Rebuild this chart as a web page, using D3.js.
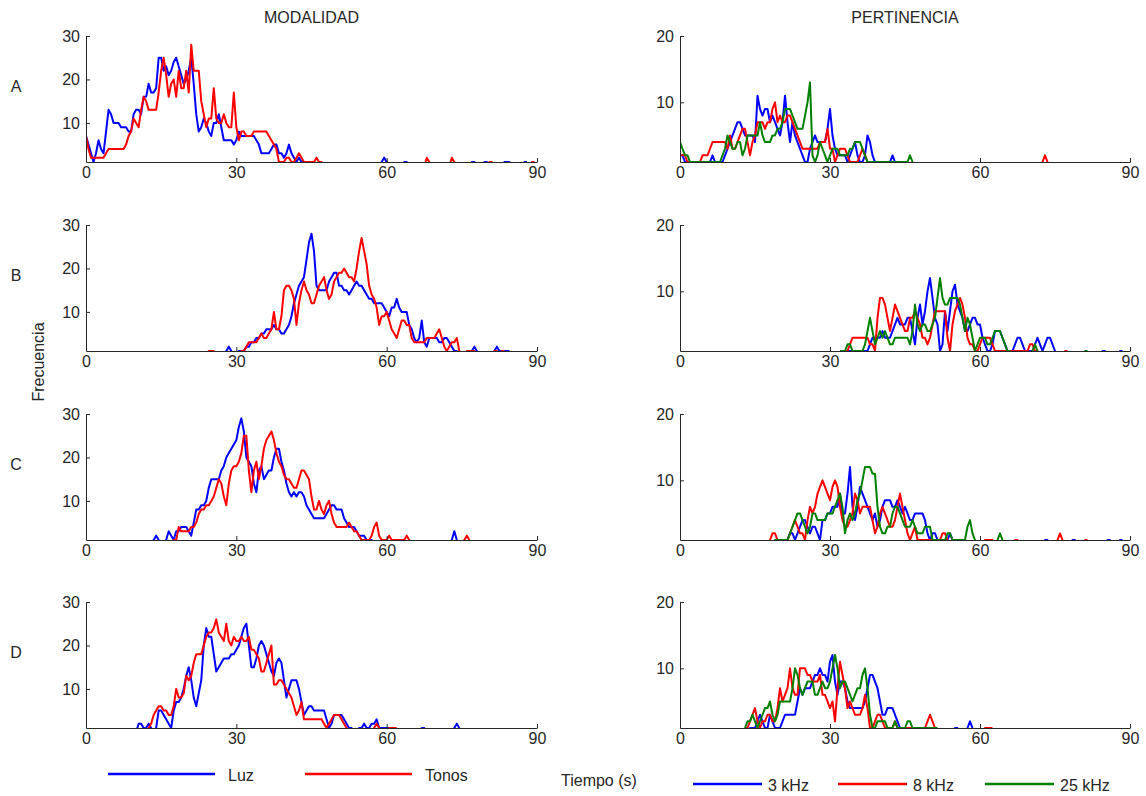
<!DOCTYPE html>
<html>
<head>
<meta charset="utf-8">
<script src="https://cdn.jsdelivr.net/npm/d3@7"></script>
<style>
  body { margin: 0; background: #ffffff; }
  svg text { font-family: "Liberation Sans", Arial, sans-serif; font-size: 16px; fill: #262626; }
</style>
</head>
<body>
<svg id="chart" width="1146" height="796"></svg>
<script>
// Histogramas de tiempos de respuesta: frecuencia por intervalo de 0.5 s.
const PASO = 0.5;
const ticksX = [0, 30, 60, 90];
const ticksModalidad = [10, 20, 30];
const ticksPertinencia = [10, 20];
const filas = ["A", "B", "C", "D"];
const titulos = ["MODALIDAD", "PERTINENCIA"];
const leyendaModalidad = ["Luz", "Tonos"];
const leyendaPertinencia = ["3 kHz", "8 kHz", "25 kHz"];

// Tiempo (s) del primer intervalo de cada fila
const inicioModalidad = [0, 24, 13, 10];
const inicioPertinencia = [0, 32, 18, 13];

// ---- MODALIDAD ----
const luzA = [
  7,5,3,1,3,6,4,3,8,13, 12,10,10,10,9,9,9,8,8,12, 13,13,12,16,16,19,17,17,18,25,
  25,22,23,21,22,24,25,23,21,19, 20,22,25,19,12,8,9,11,10,8, 7,10,10,12,9,6,6,6,6,5,
  6,8,7,7,7,7,7,7,6,5, 3,3,3,3,4,5,5,3,3,2, 3,5,3,2,1,2,1,1,1,0,
  0,0,0,0,0,0,0,0,0,0, 0,0,0,0,0,0,0,0,0,0, 0,0,0,0,0,0,0,0,1,2,
  1,0,0,0,0,0,0,1,1,0, 0,0,0,0,0,0,0,0,0,0, 0,0,0,0,0,0,0,0,0,0,
  0,0,0,0,1,1,0,0,0,1, 1,0,0,0,0,0,0,1,1,1, 0,0,0,0,0,1,1
];
const tonosA = [
  7,4,2,2,2,2,2,2,3,4, 4,4,4,4,4,4,5,7,8,11, 10,9,13,16,15,13,13,13,13,17,
  22,25,21,16,19,20,16,22,18,18, 22,17,28,22,22,22,15,12,9,11, 11,18,11,10,10,12,10,9,9,17,
  9,6,8,8,7,7,7,8,8,8, 8,8,8,7,6,5,4,1,1,1, 2,2,1,1,2,3,2,1,1,1,
  1,1,2,1,1,0,0,0,0,0, 0,0,0,0,0,0,0,0,0,0, 0,0,0,0,0,0,0,0,0,0,
  0,0,0,0,0,0,0,0,0,0, 0,0,0,0,0,0,2,1,0,0, 0,0,0,0,0,0,2,1,0,0,
  0,0,0,0,0,0,0,0,0,0, 0,1,1,0,0,0,0,0,0,0, 0,0,0,0,0,0,0,0,1,1
];
const luzB = [
  0,0,0,0,0,0,0,0,1,2, 1,0,0,1,1,1,2,2,3,3, 4,4,5,5,6,6,6,7,6,6,
  5,5,6,7,9,12,14,16,17,18, 22,26,28,24,16,15,15,15,15,17, 18,19,19,16,16,15,15,14,15,16,
  17,16,16,15,14,13,13,12,12,12, 12,11,10,9,11,11,13,11,10,10, 10,7,6,4,3,4,8,3,2,4,
  4,4,4,3,3,4,4,3,2,1, 1,0,0,0,0,0,1,2,1,0, 0,0,0,0,0,1,2,1,1,1, 1,1
];
const tonosB = [
  0,1,1,1,0,0,0,0,0,0, 0,0,0,0,1,1,2,3,3,3, 3,4,5,4,4,5,6,10,6,6,
  9,15,16,16,15,13,7,12,15,17, 15,14,12,12,14,16,17,18,15,13, 14,17,18,19,19,20,19,18,18,17,
  20,24,27,24,21,16,14,13,11,7, 9,9,10,8,6,5,4,6,8,8, 7,7,4,3,3,3,3,3,4,4,
  4,4,5,6,4,2,1,2,3,3, 4,1,0,0,1,1,1,1,0,0, 0,0,0,0,0,1,1,0,1,1
];
const luzC = [
  0,1,2,1,0,0,1,3,2,1, 3,3,4,4,4,3,2,5,8,8, 9,9,10,13,15,15,15,15,17,18,
  20,21,22,23,24,27,29,26,20,19, 18,14,12,17,18,15,16,17,17,20, 22,22,19,17,14,12,11,12,11,12,
  12,11,9,8,7,6,6,6,6,6, 7,8,9,9,8,8,8,6,5,4, 4,4,3,2,2,2,1,1,1,0,
  0,0,0,0,0,0,0,0,0,0, 0,0,0,0,0,0,0,0,0,0, 0,0,0,0,0,0,0,0,0,0,
  1,3,1
];
const tonosC = [
  0,0,0,0,0,0,0,0,0,1, 1,4,3,3,3,3,4,4,5,7, 8,8,9,9,10,11,13,15,14,11,
  9,14,17,18,18,19,21,25,25,17, 12,17,19,15,18,22,24,25,26,24, 21,19,18,16,15,15,14,13,13,15,
  17,17,16,15,11,8,8,10,8,7, 9,10,7,5,4,4,4,4,4,5, 4,3,3,2,1,1,1,1,2,4,
  5,2,1,1,1,2,1,1,1,1, 1,1,2,1,0,0,0,0,0,0, 0,0,0,0,0,0,0,0,0,0,
  0,0,0,0,0,1,2,1
];
const luzD = [
  0,2,2,1,1,2,1,0,1,5, 5,4,3,2,1,5,7,7,8,10, 13,15,12,8,6,9,12,20,24,22,
  22,18,14,15,16,17,17,17,18,18, 19,20,22,24,25,20,15,15,17,20, 21,20,18,16,14,13,16,17,16,12,
  8,10,12,12,12,10,7,4,5,6, 6,5,5,5,5,5,3,1,2,4, 4,4,4,3,2,1,1,0,0,1,
  1,2,1,1,2,2,3,1,1,1, 1,1,1,0,0,0,0,0,0,0, 0,0,0,0,1,1,0,0,0,0,
  0,0,0,0,0,0,0,1,2,1
];
const tonosD = [
  0,0,0,0,0,1,2,4,5,6, 6,5,5,4,4,6,10,8,8,9, 13,12,13,16,18,18,18,20,22,23,
  23,24,26,23,22,21,25,21,20,22, 21,21,22,21,21,22,19,19,18,17, 14,14,16,18,20,11,11,12,12,11,
  10,9,8,6,4,5,7,3,3,3, 3,3,3,3,3,2,1,2,3,4, 4,4,3,2,1,0,0,0,0,0,
  0,0,0,0,0,1,2,1,0,0, 0,1,1,1,1
];

// ---- PERTINENCIA ----
const khz3A = [
  2,2,1,1,1,1,1,1,1,1, 1,1,1,2,1,1,1,1,2,3, 4,5,6,7,7,6,5,5,5,5,
  4,11,9,8,9,9,7,8,7,6, 5,7,11,7,4,7,5,4,3,2, 1,1,3,4,5,4,4,4,4,6,
  9,5,3,2,2,2,2,1,2,3, 4,2,1,1,2,5,4,2,1,0, 0,0,0,0,1,2,1
];
const khz8A = [
  2,2,2,1,1,1,1,1,1,2, 2,2,3,4,4,4,4,4,4,3, 5,3,3,4,5,6,6,4,2,4,
  5,7,7,7,6,7,7,9,10,7, 8,7,7,8,8,7,6,5,4,3, 3,3,3,3,3,3,4,4,4,6,
  3,3,1,2,3,3,3,2,1,1, 1,1,2,3,2,1,0,0,0,0, 1,1,1,1,0,0,0,0,0,0,
  0,0,0,0,0,0,0,0,0,0, 0,0,0,0,0,0,0,0,0,0, 0,0,0,0,0,0,0,0,0,0,
  0,0,0,0,0,0,0,0,0,0, 0,0,0,0,0,0,0,0,0,0, 0,0,0,0,0,1,2,1
];
const khz25A = [
  4,3,2,2,1,1,1,1,1,1, 1,1,1,1,1,1,1,2,3,5, 4,3,3,4,4,2,3,5,5,5,
  5,5,7,5,4,4,4,5,5,6, 6,7,9,9,9,8,7,6,6,6, 8,10,13,2,1,2,4,3,2,1,
  2,3,3,3,2,2,2,2,3,3, 4,4,4,3,2,1,1,1,1,1, 1,1,1,1,1,1,1,1,1,1,
  1,1,2,1
];
const khz3B = [
  1,1,1,1,1,1,1,1,1,1, 1,1,2,3,3,3,3,4,3,3, 3,4,5,6,5,5,5,6,6,4,
  2,6,8,5,7,10,12,9,6,5, 1,2,7,4,7,10,11,8,7,6, 4,4,5,6,6,5,5,3,2,1,
  1,2,4,4,4,3,2,1,1,1, 2,3,3,2,1,1,1,1,2,3, 2,1,2,3,3,2,1,0,0,0,
  0,0,0,0,0,0,0,0,0,0, 0,0,0,0,0,1,1,0,0,0, 0,0,1,1
];
const khz8B = [
  0,0,1,1,2,3,3,3,3,3, 3,3,2,2,1,6,9,9,8,6, 4,6,8,7,6,5,4,4,6,6,
  7,6,5,3,3,2,3,5,7,7, 7,7,7,3,1,5,7,8,9,8, 6,3,2,2,1,1,2,3,3,3,
  3,2,1,1,1,1,1,1,1,1, 1,1,1,1,1,1,2,2,1,1, 0,0,0,0,0,0,0,0,0,0,
  1,1
];
const khz25B = [
  1,1,1,2,2,1,1,1,1,1, 2,4,6,4,2,3,4,3,4,3, 2,2,3,3,3,3,3,3,2,4,
  8,5,4,5,5,4,4,5,6,9, 12,9,8,8,9,9,9,9,8,6, 4,6,5,3,1,2,3,3,3,2,
  2,3,4,4,4,3,2,1,1,0, 0,0,0,0,0,0,0,1,2,1, 0,0,0,0,0,0,0,0,0,0,
  0,0,0,0,0,0,0,0,1,1
];
const khz3C = [
  0,0,0,0,0,0,1,1,2,2, 1,2,3,4,4,3,2,3,3,2, 1,4,4,5,5,6,6,6,8,5,
  5,8,12,6,4,6,9,8,7,6, 5,4,5,3,4,6,7,7,7,6, 6,7,6,5,6,5,4,4,5,5,
  5,5,4,2,1,2,2,1,1,1, 1,1,2,1,1,0,0,0,0,0, 0,0,0,0,0,0,0,0,0,0,
  0,0,0,0,0,0,0,0,0,0, 0,0,0,0,0,0,0,0,0,0, 1,1,0,0,0,0,0,0,0,0,
  0,1,1,0,0,0,0,0,0,0, 0,0,0,0,0,1,1,0,0,0, 1,1
];
const khz8C = [
  1,2,2,1,1,1,1,1,2,3, 4,3,2,2,1,4,6,5,6,8, 9,10,9,8,7,9,10,9,6,4,
  3,3,4,5,8,7,5,6,6,6, 6,4,2,3,5,6,5,4,3,3, 4,6,8,6,4,2,1,2,3,1,
  1,1,1,1,1,1,1,1,1,2, 2,1,0,0,0,0,0,0,0,0, 0,0,0,0,0,0,1,1,1,1,
  0,0,0,0,0,0,0,0,1,1, 0,0,0,0,0,0,0,0,0,0, 0,0,0,0,0,1,2,1,0,0,
  0,0,0,0,0,0,1,1
];
const khz25C = [
  0,0,1,1,1,1,1,1,2,3, 4,5,5,4,3,2,3,5,5,4, 4,4,4,5,5,5,6,7,8,6,
  2,4,5,4,5,7,8,10,12,12, 12,11,11,6,3,2,2,3,3,5, 6,6,5,4,3,3,3,4,3,2,
  2,2,3,3,3,1,1,1,1,1, 1,2,2,1,1,1,1,1,1,3, 4,2,1,0,0,0,0,0,0,0,
  0,1,2,1
];
const khz3D = [
  0,0,1,1,1,2,3,2,1,1, 3,2,1,1,1,2,3,3,3,3, 3,5,7,6,7,7,7,8,9,9,
  10,9,9,8,11,12,8,6,8,8, 7,5,4,4,4,4,4,4,5,7, 9,9,8,7,5,3,3,4,4,4,
  3,2,1,1,1,1,1,1,1,0, 0,0,0,0,0,0,0,0,0,0, 0,0,0,0,1,1,0,0,0,1,
  2,1
];
const khz8D = [
  1,1,2,3,4,2,1,2,2,3, 3,2,2,4,7,5,6,7,10,7, 6,6,10,10,10,9,9,8,8,8,
  9,6,6,5,4,5,2,7,11,9, 7,4,5,4,3,3,3,4,6,4, 1,1,2,3,3,2,1,1,1,1,
  2,1,1,1,1,1,1,1,1,1, 1,1,1,2,3,2,1,0,0,0, 0,0,0,0,0,0,0,0,0,0,
  0,0,0,0,0,0,1,1,1,1
];
const khz25D = [
  1,2,2,3,2,1,2,3,4,4, 5,3,2,3,5,5,5,5,5,7, 10,9,7,6,7,8,8,8,6,6,
  7,8,7,7,8,10,12,10,7,8, 8,7,6,5,6,7,7,9,10,7, 3,1,1,2,2,2,2,1,1,1,
  2,1,1,1,1,2,2,1,1,1, 1,1,1,1,1,1,1,1
];

const AZUL = "#0000ff", ROJO = "#ff0000", VERDE = "#008000";
const TINTA = "#262626";

const columnas = [
  {
    x0: 86, x1: 537, yMax: 30, ticks: ticksModalidad, inicio: inicioModalidad,
    series: [
      { datos: [luzA, luzB, luzC, luzD], color: AZUL },
      { datos: [tonosA, tonosB, tonosC, tonosD], color: ROJO }
    ]
  },
  {
    x0: 680, x1: 1130, yMax: 20, ticks: ticksPertinencia, inicio: inicioPertinencia,
    series: [
      { datos: [khz3A, khz3B, khz3C, khz3D], color: AZUL },
      { datos: [khz8A, khz8B, khz8C, khz8D], color: ROJO },
      { datos: [khz25A, khz25B, khz25C, khz25D], color: VERDE }
    ]
  }
];
// Borde superior (y=máx) e inferior (y=1) de cada fila de paneles
const bandas = [[36, 162], [225, 351], [414, 540], [602, 728]];

const svg = d3.select("#chart");
const defs = svg.append("defs");

columnas.forEach((col, c) => {
  bandas.forEach(([top, bottom], r) => {
    const x = d3.scaleLinear().domain([0, 90]).range([col.x0, col.x1]);
    const y = d3.scaleLinear().domain([1, col.yMax]).range([bottom, top]);
    const id = `recorte-${c}-${r}`;
    defs.append("clipPath").attr("id", id)
      .append("rect")
      .attr("x", col.x0).attr("y", top - 4)
      .attr("width", col.x1 - col.x0 + 1).attr("height", bottom - top + 5);

    const g = svg.append("g");
    const t0 = col.inicio[r];
    const linea = d3.line()
      .x((d, i) => x(t0 + i * PASO))
      .y(d => y(d));

    const trazos = g.append("g").attr("clip-path", `url(#${id})`);
    col.series.forEach(s => {
      trazos.append("path")
        .datum(s.datos[r])
        .attr("d", linea)
        .attr("fill", "none")
        .attr("stroke", s.color)
        .attr("stroke-width", 2)
        .attr("stroke-linejoin", "round");
    });

    const ejeX = g.append("g")
      .attr("transform", `translate(0,${bottom})`)
      .call(d3.axisBottom(x).tickValues(ticksX).tickFormat(d3.format("d"))
        .tickSizeInner(-4).tickSizeOuter(0).tickPadding(5));
    const ejeY = g.append("g")
      .attr("transform", `translate(${col.x0},0)`)
      .call(d3.axisLeft(y).tickValues(col.ticks).tickFormat(d3.format("d"))
        .tickSizeInner(-4).tickSizeOuter(0).tickPadding(6));
    [ejeX, ejeY].forEach(e => {
      e.attr("font-size", null).attr("font-family", null);
      e.select(".domain").attr("stroke", TINTA);
      e.selectAll(".tick line").attr("stroke", TINTA);
    });

    if (c === 0) {
      svg.append("text")
        .attr("x", 16).attr("y", top + 56)
        .attr("text-anchor", "middle")
        .text(filas[r]);
    }
  });

  svg.append("text")
    .attr("x", (col.x0 + col.x1) / 2).attr("y", 23)
    .attr("text-anchor", "middle")
    .text(titulos[c]);
});

// Rótulo del eje vertical
svg.append("text")
  .attr("transform", "translate(44,362) rotate(-90)")
  .attr("text-anchor", "middle")
  .text("Frecuencia");

// Rótulo del eje horizontal
svg.append("text")
  .attr("x", 561).attr("y", 786)
  .text("Tiempo (s)");

// Leyendas
const leyendaIzq = [
  { x: 108, color: AZUL, texto: leyendaModalidad[0] },
  { x: 305, color: ROJO, texto: leyendaModalidad[1] }
];
leyendaIzq.forEach(l => {
  svg.append("line")
    .attr("x1", l.x).attr("x2", l.x + 107)
    .attr("y1", 774).attr("y2", 774)
    .attr("stroke", l.color).attr("stroke-width", 2.5);
  svg.append("text").attr("x", l.x + 120).attr("y", 781).text(l.texto);
});
const leyendaDer = [
  { x: 693, color: AZUL, texto: leyendaPertinencia[0] },
  { x: 838, color: ROJO, texto: leyendaPertinencia[1] },
  { x: 985, color: VERDE, texto: leyendaPertinencia[2] }
];
leyendaDer.forEach(l => {
  svg.append("line")
    .attr("x1", l.x).attr("x2", l.x + 69)
    .attr("y1", 784).attr("y2", 784)
    .attr("stroke", l.color).attr("stroke-width", 2.5);
  svg.append("text").attr("x", l.x + 75).attr("y", 791).text(l.texto);
});
</script>
</body>
</html>
